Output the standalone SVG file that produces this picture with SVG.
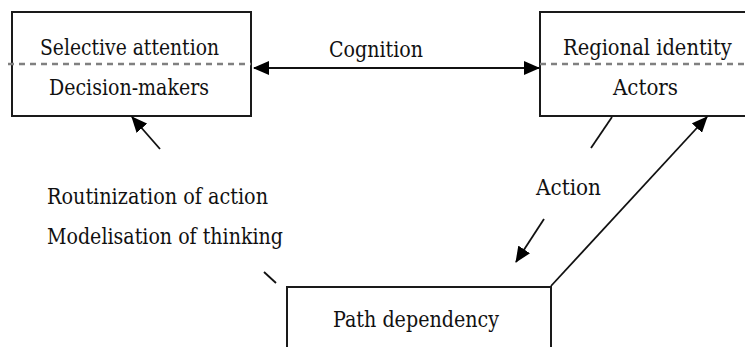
<svg xmlns="http://www.w3.org/2000/svg" width="745" height="347" viewBox="0 0 745 347">
<defs>
<style>
.box{fill:#fff;stroke:#1a1a1a;stroke-width:2}
.dash{stroke:#808080;stroke-width:2.5;stroke-dasharray:6 5;fill:none}
.t{font-family:"DejaVu Serif","Liberation Serif",serif;font-size:22.5px;fill:#111}
.ln{stroke:#111;stroke-width:1.8;fill:none}
</style>
<marker id="ah" viewBox="0 0 16 14" refX="15" refY="7" markerWidth="16" markerHeight="14" markerUnits="userSpaceOnUse" orient="auto-start-reverse">
<path d="M0,0 L16,7 L0,14 Z" fill="#000"/>
</marker>
</defs>
<rect width="745" height="347" fill="#fff"/>
<g id="node-decision">
<rect class="box" x="12" y="12" width="239" height="104"/>
<line class="dash" x1="8" y1="64" x2="251" y2="64"/>
<text class="t" x="40" y="55" textLength="179" lengthAdjust="spacingAndGlyphs">Selective attention</text>
<text class="t" x="49" y="95" textLength="160" lengthAdjust="spacingAndGlyphs">Decision-makers</text>
</g>
<g id="node-actors">
<path class="box" d="M745,12 H540 V116 H745"/>
<line class="dash" x1="540" y1="64" x2="745" y2="64"/>
<text class="t" transform="translate(563,55) scale(0.866,1)" x="0" y="0">Regional identity</text>
<text class="t" x="613" y="95" textLength="65" lengthAdjust="spacingAndGlyphs">Actors</text>
</g>
<g id="node-path">
<path class="box" d="M287,347 V287 H551 V347"/>
<text class="t" x="333" y="327" textLength="166" lengthAdjust="spacingAndGlyphs">Path dependency</text>
</g>
<g id="labels">
<text class="t" x="329" y="57" textLength="94" lengthAdjust="spacingAndGlyphs">Cognition</text>
<text class="t" x="536" y="195" textLength="65" lengthAdjust="spacingAndGlyphs">Action</text>
<text class="t" x="47" y="204" textLength="221" lengthAdjust="spacingAndGlyphs">Routinization of action</text>
<text class="t" x="47" y="244" textLength="236" lengthAdjust="spacingAndGlyphs">Modelisation of thinking</text>
</g>
<g id="connectors">
<line class="ln" x1="254" y1="68" x2="539" y2="68" marker-start="url(#ah)" marker-end="url(#ah)"/>
<line class="ln" x1="160" y1="149" x2="132" y2="117" marker-end="url(#ah)"/>
<line class="ln" x1="612" y1="117" x2="591" y2="148"/>
<line class="ln" x1="544" y1="219" x2="516" y2="262" marker-end="url(#ah)"/>
<line class="ln" x1="551" y1="286" x2="707" y2="117" marker-end="url(#ah)"/>
<line class="ln" x1="264" y1="272" x2="276" y2="283"/>
</g>
</svg>
